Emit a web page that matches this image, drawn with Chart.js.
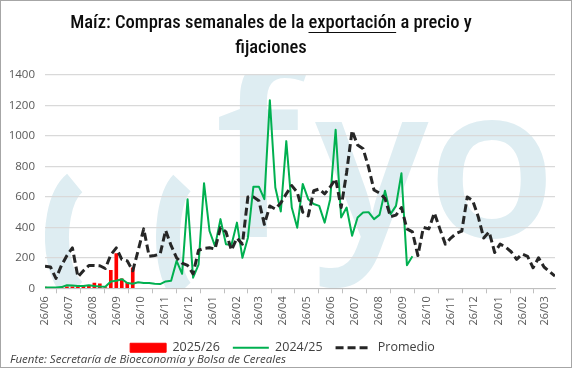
<!DOCTYPE html>
<html>
<head>
<meta charset="utf-8">
<script src="https://cdn.jsdelivr.net/npm/chart.js@4.4.0/dist/chart.umd.min.js"></script>
<style>
  html, body { margin: 0; padding: 0; background: #fff; }
  #wrap { width: 572px; height: 368px; box-sizing: border-box; border: 1px solid #a6a6a6; }
  canvas { display: block; }
</style>
</head>
<body>
<div id="wrap"><canvas id="chart" width="570" height="366"></canvas></div>
<script>
// etiquetas del eje x (un tick por mes, semanas desde el 26/06)
const tickLabels = ["26/06", "26/07", "26/08", "26/09", "26/10", "26/11", "26/12", "26/01", "26/02", "26/03", "26/04",
  "26/05", "26/06", "26/07", "26/08", "26/09", "26/10", "26/11", "26/12", "26/01", "26/02", "26/03"];
const primerSemana = new Date(2024, 5, 26);

// compras semanales (miles de t)
const compras2526 = [8, 7, 6, 7, 10, 10, 12, 18, 20, 35, 30, 5, 118, 228, 62, 38, 135];
const compras2425 = [5, 5, 5, 8, 20, 18, 15, 15, 20, 15,
  12, 10, 45, 50, 60, 35, 30, 40, 35, 35,
  30, 28, 45, 50, 180, 95, 585, 70, 156, 690,
  376, 277, 454, 289, 284, 431, 200, 332, 667, 667,
  585, 1235, 662, 504, 966, 530, 398, 685, 585, 553,
  541, 431, 585, 1041, 465, 530, 345, 465, 497, 500,
  454, 482, 640, 487, 541, 755, 152, 211];
const promedio = [145, 140, 65, 150, 215, 265, 75, 115, 150, 150,
  148, 130, 220, 265, 190, 180, 115, 250, 390, 210,
  215, 225, 380, 280, 200, 165, 150, 95, 250, 262,
  266, 258, 398, 370, 250, 330, 290, 600, 600, 575,
  420, 540, 520, 560, 620, 674, 630, 500, 475, 640,
  652, 620, 665, 718, 530, 760, 1035, 940, 916, 795,
  645, 625, 590, 470, 480, 530, 390, 370, 215, 400,
  390, 495, 390, 290, 330, 360, 375, 600, 575, 470,
  330, 370, 235, 290, 270, 240, 190, 225, 210, 135,
  200, 140, 110, 80];

const tituloPartes = ["Maíz: Compras semanales de la ", "exportación", " a precio y"];
const tituloLinea2 = "fijaciones";
const fuente = "Fuente: Secretaría de Bioeconomía y Bolsa de Cereales";

const fam = "'Open Sans', sans-serif";
const tickDays = tickLabels.map((_, k) =>
  Math.round((new Date(2024, 5 + k, 26) - primerSemana) / 86400000));
const semanal = arr => arr.map((v, i) => ({ x: i * 7, y: v }));

// logo de fondo
const marcaAgua = {
  id: "marcaAgua",
  beforeDraw(chart) {
    const { ctx, chartArea: a } = chart;
    ctx.save();
    ctx.beginPath();
    ctx.rect(a.left, a.top, a.right - a.left, a.bottom - a.top);
    ctx.clip();
    ctx.strokeStyle = "#deedf2";
    ctx.fillStyle = "#deedf2";
    ctx.lineWidth = 24;
    [[84, 28], [189, 22]].forEach(([cx, rx]) => {
      ctx.beginPath();
      ctx.ellipse(cx, 236, rx, 58, 0, 0.62 * Math.PI, 1.38 * Math.PI);
      ctx.stroke();
    });
    ctx.textBaseline = "alphabetic";
    ctx.font = "600 235px 'Open Sans'";
    ctx.fillText("f", 214, 236);
    ctx.font = "600 212px 'Open Sans'";
    ctx.fillText("y", 314, 236);
    ctx.fillText("o", 426, 236);
    ctx.restore();
  }
};

const titulo = {
  id: "titulo",
  afterDraw(chart) {
    const ctx = chart.ctx;
    ctx.save();
    ctx.font = "500 20px 'Liberation Sans Narrow', 'Roboto Condensed', Lato, sans-serif";
    const w20 = ctx.measureText(tituloPartes.join("")).width;
    const size = 20 * 402 / w20;
    ctx.font = "500 " + size + "px 'Liberation Sans Narrow', 'Roboto Condensed', Lato, sans-serif";
    ctx.fillStyle = "#0d0d0d";
    ctx.strokeStyle = "#0d0d0d";
    ctx.textBaseline = "alphabetic";
    const total = ctx.measureText(tituloPartes.join("")).width;
    let x = 270 - total / 2;
    tituloPartes.forEach((p, i) => {
      const w = ctx.measureText(p).width;
      ctx.fillText(p, x, 27);
      if (i === 1) {
        ctx.lineWidth = 1;
        ctx.beginPath();
        ctx.moveTo(x, 31.5);
        ctx.lineTo(x + w, 31.5);
        ctx.stroke();
      }
      x += w;
    });
    ctx.textAlign = "center";
    ctx.fillText(tituloLinea2, 270, 52);
    ctx.restore();
  }
};

const pieFuente = {
  id: "pieFuente",
  afterDraw(chart) {
    const ctx = chart.ctx;
    ctx.save();
    ctx.font = "italic 11.5px " + fam;
    ctx.fillStyle = "#404040";
    ctx.textBaseline = "alphabetic";
    ctx.fillText(fuente, 9, 362);
    ctx.restore();
  }
};

new Chart(document.getElementById("chart"), {
  type: "bar",
  data: {
    datasets: [
      {
        type: "bar",
        label: "2025/26",
        data: semanal(compras2526),
        backgroundColor: "#ff0000",
        borderColor: "#ff0000",
        barThickness: 3,
        order: 3
      },
      {
        type: "line",
        label: "2024/25",
        data: semanal(compras2425),
        borderColor: "#00b050",
        backgroundColor: "#00b050",
        borderWidth: 2,
        borderJoinStyle: "round",
        pointRadius: 0,
        order: 2
      },
      {
        type: "line",
        label: "Promedio",
        data: semanal(promedio),
        borderColor: "#262626",
        backgroundColor: "#262626",
        borderWidth: 3,
        borderDash: [8, 4],
        borderJoinStyle: "round",
        pointRadius: 0,
        order: 1
      }
    ]
  },
  options: {
    responsive: false,
    animation: false,
    layout: { padding: { top: 74, left: 9, right: 16, bottom: 3 } },
    plugins: {
      tooltip: { enabled: false },
      legend: {
        position: "bottom",
        labels: {
          usePointStyle: true,
          pointStyleWidth: 36,
          boxWidth: 36,
          boxHeight: 9,
          padding: 13,
          color: "#404040",
          font: { size: 12.5, family: fam },
          generateLabels: chart => chart.data.datasets.map((ds, i) => ({
            text: ds.label,
            fillStyle: ds.backgroundColor,
            strokeStyle: ds.borderColor,
            lineWidth: ds.type === "bar" ? 1 : ds.borderWidth,
            lineDash: ds.borderDash || [],
            pointStyle: ds.type === "bar" ? "rect" : "line",
            fontColor: "#404040",
            hidden: false,
            datasetIndex: i
          }))
        }
      }
    },
    scales: {
      x: {
        type: "linear",
        min: 0,
        max: (promedio.length - 1) * 7,
        offset: false,
        afterBuildTicks: s => { s.ticks = tickDays.map(v => ({ value: v })); },
        ticks: {
          autoSkip: false,
          minRotation: 90,
          maxRotation: 90,
          padding: 3,
          color: "#595959",
          font: { size: 11, family: fam },
          callback: (v, i) => tickLabels[i]
        },
        grid: { drawOnChartArea: false, drawTicks: true, tickLength: 5, color: "#bfbfbf" },
        border: { display: true, color: "#bfbfbf" }
      },
      y: {
        min: 0,
        max: 1400,
        afterFit: s => { s.width = 35; },
        ticks: { stepSize: 200, padding: 10, color: "#595959", font: { size: 11.5, family: fam }, callback: v => String(v) },
        grid: { color: "#d9d9d9", lineWidth: 1.3, drawTicks: false },
        border: { display: false }
      }
    }
  },
  plugins: [marcaAgua, titulo, pieFuente]
});
</script>
</body>
</html>
